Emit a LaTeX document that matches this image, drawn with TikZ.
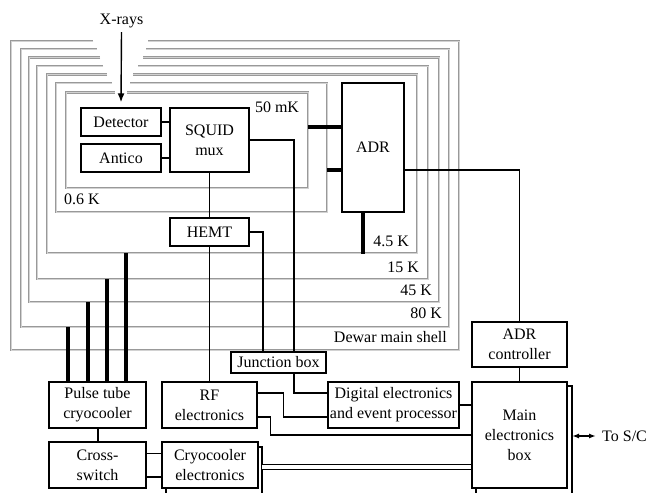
\documentclass[tikz,border=0pt]{standalone}
\usepackage{fontspec}
\setmainfont{Liberation Serif}
\usetikzlibrary{arrows.meta,calc}
\begin{document}
\begin{tikzpicture}[x=1pt,y=-1pt,
  every node/.style={font=\fontsize{16}{20}\selectfont},
  blk/.style={draw,line width=1.4pt,fill=white,inner sep=0pt,align=center},
  shell/.style={draw=gray!80,double=gray!35,double distance=0.7pt,line width=0.75pt},
  wire/.style={line width=1.4pt},
  heat/.style={line width=3.4pt},
  dbl/.style={line width=1.3pt,double,double distance=3.6pt},
  lbl/.style={inner sep=0pt}]
\useasboundingbox (0,0) rectangle (647,492);
% shells
\draw[shell] (93,41) -- (11,41) -- (11,350) -- (459,350) -- (459,41) -- (148,41);
\draw[shell] (97,49) -- (21,49) -- (21,327) -- (449,327) -- (449,49) -- (146,49);
\draw[shell] (100,57.5) -- (29,57.5) -- (29,302) -- (439,302) -- (439,57.5) -- (143,57.5);
\draw[shell] (103,66) -- (37,66) -- (37,279) -- (428,279) -- (428,66) -- (138,66);
\draw[shell] (107,74.5) -- (47,74.5) -- (47,253) -- (417,253) -- (417,74.5) -- (133,74.5);
\draw[shell] (112,83) -- (56,83) -- (56,212) -- (327,212) -- (327,83) -- (130,83);
\draw[shell] (115,92.5) -- (66,92.5) -- (66,188) -- (308,188) -- (308,92.5) -- (127,92.5);
% shell labels
\node[lbl,anchor=west] (l06) at (64,199) {0.6 K};
\node[lbl] (l50) at (277,107) {50 mK};
\node[lbl,anchor=east] (l45) at (409,241) {4.5 K};
\node[lbl,anchor=east] (l15) at (419,267) {15 K};
\node[lbl,anchor=east] (l45b) at (432,290) {45 K};
\node[lbl,anchor=east] (l80) at (442,313) {80 K};
\node[lbl,anchor=east] (ldw) at (447,337) {Dewar main shell};
% shadows
\draw[line width=1.4pt,fill=white] (476,386) rectangle (572,498);
\draw[line width=1.4pt,fill=white] (166,447) rectangle (262,498);
% blocks
\node[blk,minimum width=80pt,minimum height=28pt] (det) at (121,122) {Detector};
\node[blk,minimum width=80pt,minimum height=28pt] (anti) at (121,158) {Antico};
\node[blk,minimum width=79pt,minimum height=64pt] (squid) at (209.5,140) {SQUID\\mux};
\node[blk,minimum width=62pt,minimum height=129pt] (adr) at (373,147.5) {ADR};
\node[blk,minimum width=79pt,minimum height=28pt] (hemt) at (209.5,232) {HEMT};
\node[blk,minimum width=95pt,minimum height=21pt] (junc) at (278.5,362.5) {Junction box};
\node[blk,minimum width=97pt,minimum height=46pt] (ptc) at (97.5,405) {Pulse tube\\cryocooler};
\node[blk,minimum width=95pt,minimum height=46pt] (rf) at (209.5,405) {RF\\electronics};
\node[blk,minimum width=131pt,minimum height=46pt] (dig) at (393.5,405) {Digital electronics\\and event processor};
\node[blk,minimum width=95pt,minimum height=45pt] (adrc) at (519.5,344.5) {ADR\\controller};
\node[blk,minimum width=95pt,minimum height=106pt] (main) at (519.5,435) {Main\\electronics\\box};
\node[blk,minimum width=97pt,minimum height=46pt] (cross) at (97.5,465) {Cross-\\switch};
\node[blk,minimum width=96pt,minimum height=46pt] (cryo) at (210,465) {Cryocooler\\electronics};
% X-rays
\node[lbl] (xray) at (121.5,21) {X-rays};
\draw[wire,-{Latex[length=9pt,width=7pt]}] ([yshift=-4pt]xray.south) -- ([yshift=5pt]det.north);
% wires
\draw[wire] (det.east) -- (det.east -| squid.west);
\draw[wire] (anti.east) -- (anti.east -| squid.west);
\draw[wire] (squid.south) -- (hemt.north);
\draw[wire] (hemt.south) -- (rf.north);
\draw[wire] (squid.east) -| ([xshift=15.5pt]junc.north);
\draw[wire] (hemt.east) -| ([xshift=-15.5pt]junc.north);
\draw[wire] ([xshift=15.5pt]junc.south) |- ([yshift=12pt]dig.west);
\draw[wire] ([yshift=12pt]rf.east) -- ++(26,0) |- ([yshift=-12pt]dig.west);
\draw[wire] ([yshift=-12pt]rf.east) -- ++(13,0) |- (main.west);
\draw[wire] (dig.east) -- (dig.east -| main.west);
\draw[wire] ([yshift=-22.5pt]adr.east) -| (adrc.north);
\draw[wire] (adrc.south) -- (main.north);
\draw[wire] ([xshift=0.5pt]ptc.south) -- ([xshift=0.5pt]cross.north);
\draw[wire] ([yshift=11.5pt]cross.east) -- ([yshift=11.5pt]cryo.west);
\draw[wire] ([yshift=-12pt]cross.east) -- ([yshift=-12pt]cryo.west);
\coordinate (cryoback) at (262,467);
\draw[dbl] (cryoback) -- (cryoback -| main.west);
% heat links
\coordinate (m50) at (308,127);
\coordinate (k06) at (327,170);
\draw[heat] (m50) -- (m50 -| adr.west);
\draw[heat] (k06) -- (k06 -| adr.west);
\draw[heat] ([xshift=-10pt]adr.south) -- ++(0,41);
\coordinate (s80) at (68,327);
\coordinate (s45) at (88,302);
\coordinate (s15) at (107,279);
\coordinate (s4) at (126,253);
\foreach \c in {s80,s45,s15,s4} \draw[heat] (\c) -- (\c |- ptc.north);
% to S/C
\coordinate (mainback) at (572,436);
\node[lbl,anchor=west] (tosc) at (602,436) {To S/C};
\draw[wire,{Latex[length=7pt,width=5pt]}-{Latex[length=7pt,width=5pt]}] (mainback) -- ([xshift=-6pt]tosc.west);
\end{tikzpicture}
\end{document}
